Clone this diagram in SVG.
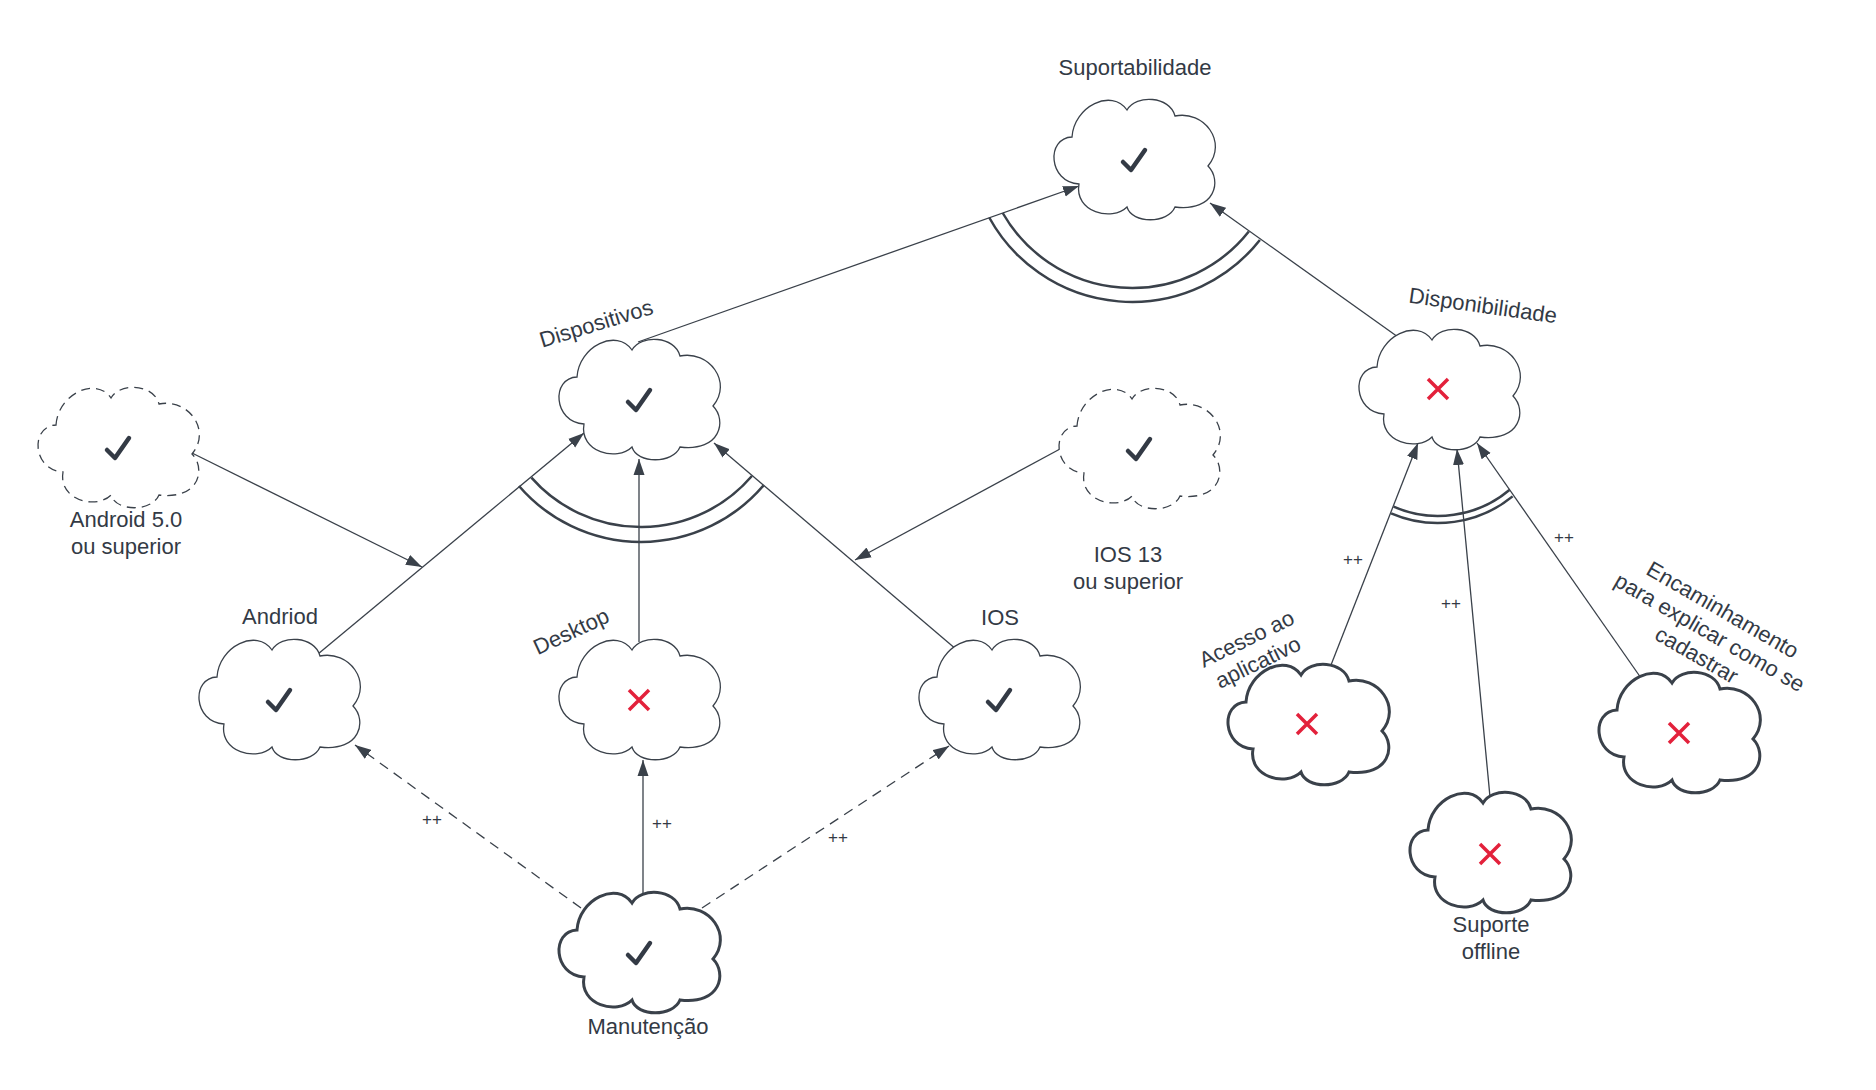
<svg xmlns="http://www.w3.org/2000/svg" xmlns:xlink="http://www.w3.org/1999/xlink" width="1876" height="1090" viewBox="0 0 1876 1090">
<style>
  .cloud { fill: #ffffff; stroke: #3a414a; stroke-width: 1.3; }
  .bold { stroke-width: 3; }
  .dash { stroke-dasharray: 9 6; }
  .lbl { font-family: "Liberation Sans", Arial, sans-serif; font-size: 22px; fill: #333a45; text-anchor: middle; }
  .pp { font-family: "Liberation Sans", Arial, sans-serif; font-size: 17px; fill: #333a45; text-anchor: middle; }
  .conn { fill: none; stroke: #3a414a; stroke-width: 1.3; }
  .dashed { stroke-dasharray: 10 7; }
  .and { fill: none; stroke: #3a414a; stroke-width: 2.5; }
  .ok { fill: none; stroke: #333a45; stroke-width: 4.5; stroke-linecap: round; stroke-linejoin: round; }
  .no { fill: none; stroke: #e3213b; stroke-width: 3.5; }
</style>
<defs>
  <path id="cloud" d="M-62,-23 C-60,-54 -22,-72 -7,-50 C2,-66 36,-64 41,-44 C70,-50 94,-18 74,6 C88,20 82,52 41,47 C34,64 -2,64 -7,47 C-22,62 -60,52 -55,24 C-86,22 -88,-22 -62,-23 Z"/>
  <path id="check" d="M-11,2 L-3,10 L11,-10"/>
  <path id="cross" d="M-10,-10 L10,10 M10,-10 L-10,10"/>
  <marker id="arrow" markerUnits="userSpaceOnUse" markerWidth="18" markerHeight="12" refX="16" refY="6" orient="auto">
    <path d="M0,0.5 L16,6 L0,11.5 Z" fill="#3a414a"/>
  </marker>
</defs>
<rect width="1876" height="1090" fill="#ffffff"/>

<g id="connectors">
  <line class="conn" x1="638" y1="342" x2="1079" y2="186" marker-end="url(#arrow)"/>
  <line class="conn" x1="1398" y1="337" x2="1210" y2="203" marker-end="url(#arrow)"/>
  <line class="conn" x1="318" y1="654" x2="584" y2="433" marker-end="url(#arrow)"/>
  <line class="conn" x1="639" y1="642" x2="639" y2="459" marker-end="url(#arrow)"/>
  <line class="conn" x1="957" y1="650" x2="714" y2="443" marker-end="url(#arrow)"/>
  <line class="conn" x1="192" y1="453" x2="422" y2="567" marker-end="url(#arrow)"/>
  <line class="conn" x1="1060" y1="449" x2="855" y2="560" marker-end="url(#arrow)"/>
  <line class="conn dashed" x1="581" y1="908" x2="355" y2="745" marker-end="url(#arrow)"/>
  <line class="conn" x1="643" y1="893" x2="643" y2="760" marker-end="url(#arrow)"/>
  <line class="conn dashed" x1="702" y1="908" x2="949" y2="746" marker-end="url(#arrow)"/>
  <line class="conn" x1="1331" y1="665" x2="1418" y2="443" marker-end="url(#arrow)"/>
  <line class="conn" x1="1490" y1="797" x2="1457" y2="449" marker-end="url(#arrow)"/>
  <line class="conn" x1="1641" y1="678" x2="1477" y2="443" marker-end="url(#arrow)"/>
  <path class="and" d="M1002.7,213 A149,149 0 0 0 1248.8,231.5"/>
  <path class="and" d="M989.2,217.5 A163,163 0 0 0 1259.9,240"/>
  <path class="and" d="M531.4,477.6 A146,146 0 0 0 751.9,476"/>
  <path class="and" d="M519,486 A161,161 0 0 0 763.4,485.6"/>
  <path class="and" d="M1393.6,506.7 A111,111 0 0 0 1509.4,490"/>
  <path class="and" d="M1391.1,513.3 A118,118 0 0 0 1512.6,496.4"/>
  <text class="pp" x="432" y="825">++</text>
  <text class="pp" x="662" y="829">++</text>
  <text class="pp" x="838" y="843">++</text>
  <text class="pp" x="1353" y="565">++</text>
  <text class="pp" x="1451" y="609">++</text>
  <text class="pp" x="1564" y="543">++</text>
</g>

<g id="n-suportabilidade">
  <use href="#cloud" class="cloud" transform="translate(1134,160)"/>
  <use href="#check" class="ok" transform="translate(1134,160)"/>
  <text class="lbl" x="1135" y="75">Suportabilidade</text>
</g>
<g id="n-dispositivos">
  <use href="#cloud" class="cloud" transform="translate(639,400)"/>
  <use href="#check" class="ok" transform="translate(639,400)"/>
  <text class="lbl" transform="translate(596,323) rotate(-17)" y="8">Dispositivos</text>
</g>
<g id="n-disponibilidade">
  <use href="#cloud" class="cloud" transform="translate(1439,390)"/>
  <use href="#cross" class="no" transform="translate(1438,389)"/>
  <text class="lbl" transform="translate(1483,305) rotate(8)" y="8">Disponibilidade</text>
</g>
<g id="n-android5">
  <use href="#cloud" class="cloud dash" transform="translate(118,448)"/>
  <use href="#check" class="ok" transform="translate(118,448)"/>
  <text class="lbl" x="126" y="527">Android 5.0</text>
  <text class="lbl" x="126" y="554">ou superior</text>
</g>
<g id="n-ios13">
  <use href="#cloud" class="cloud dash" transform="translate(1139,449)"/>
  <use href="#check" class="ok" transform="translate(1139,449)"/>
  <text class="lbl" x="1128" y="562">IOS 13</text>
  <text class="lbl" x="1128" y="589">ou superior</text>
</g>
<g id="n-andriod">
  <use href="#cloud" class="cloud" transform="translate(279,700)"/>
  <use href="#check" class="ok" transform="translate(279,700)"/>
  <text class="lbl" x="280" y="624">Andriod</text>
</g>
<g id="n-desktop">
  <use href="#cloud" class="cloud" transform="translate(639,700)"/>
  <use href="#cross" class="no" transform="translate(639,700)"/>
  <text class="lbl" transform="translate(571,631) rotate(-25)" y="8">Desktop</text>
</g>
<g id="n-ios">
  <use href="#cloud" class="cloud" transform="translate(999,700)"/>
  <use href="#check" class="ok" transform="translate(999,700)"/>
  <text class="lbl" x="1000" y="625">IOS</text>
</g>
<g id="n-manutencao">
  <use href="#cloud" class="cloud bold" transform="translate(639,953)"/>
  <use href="#check" class="ok" transform="translate(639,953)"/>
  <text class="lbl" x="648" y="1034">Manutenção</text>
</g>
<g id="n-acesso">
  <use href="#cloud" class="cloud bold" transform="translate(1308,725)"/>
  <use href="#cross" class="no" transform="translate(1307,724)"/>
  <text class="lbl" transform="translate(1252,650) rotate(-26)"><tspan x="0" y="-5">Acesso ao</tspan><tspan x="0" y="21">aplicativo</tspan></text>
</g>
<g id="n-suporte">
  <use href="#cloud" class="cloud bold" transform="translate(1490,853)"/>
  <use href="#cross" class="no" transform="translate(1490,854)"/>
  <text class="lbl" x="1491" y="932">Suporte</text>
  <text class="lbl" x="1491" y="959">offline</text>
</g>
<g id="n-encaminhamento">
  <use href="#cloud" class="cloud bold" transform="translate(1679,733)"/>
  <use href="#cross" class="no" transform="translate(1679,733)"/>
  <text class="lbl" transform="translate(1710,632) rotate(30)"><tspan x="0" y="-18">Encaminhamento</tspan><tspan x="0" y="8">para explicar como se</tspan><tspan x="0" y="34">cadastrar</tspan></text>
</g>
</svg>
